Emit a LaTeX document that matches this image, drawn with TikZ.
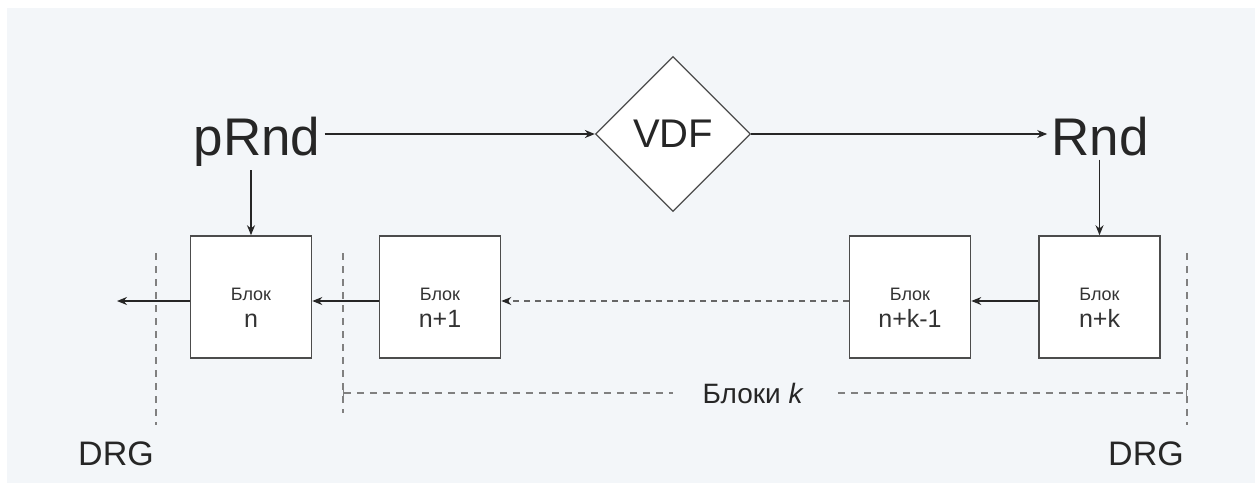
\documentclass[tikz,border=0pt]{standalone}
\usepackage{fontspec}
\setmainfont{Liberation Sans}
\usetikzlibrary{shapes.geometric,arrows.meta}
\definecolor{bgblue}{HTML}{F3F6F9}
\newcommand{\fsz}[1]{\fontsize{#1}{#1}\selectfont}

\begin{document}
\begin{tikzpicture}[x=1pt,y=-1pt]
	\tikzstyle{word}=[text=black!85,inner sep=4pt]
	\tikzstyle{vdfbox}=[diamond,aspect=1,minimum size=155pt,inner sep=0pt,draw=black!70,line width=1.3pt,fill=white,text=black!85]
	\tikzstyle{blok}=[rectangle,draw=black!70,line width=1.6pt,fill=white,minimum width=121pt,minimum height=122pt,align=center,font=\fontsize{25}{27}\selectfont,text=black!80,text height=60pt,text depth=0pt]
	\tikzstyle{edge}=[draw,line width=1.3pt,black!85,-{Stealth[length=10pt,width=8pt]}]
	\tikzstyle{dashedge}=[draw=black!60,line width=1.3pt,dash pattern=on 6pt off 5pt,-{Stealth[length=10pt,width=8pt,black!85]}]
	\tikzstyle{border}=[draw=black!50,line width=1.6pt,dash pattern=on 7pt off 6pt]
	\useasboundingbox (0,0) rectangle (1259,483);
	\fill[white] (0,0) rectangle (1259,483);
	\fill[bgblue] (7,8) rectangle (1255,483);
	\begin{scope}
		% top row
		\node [word,font=\fsz{53},anchor=base] (pRnd) at (257,155) {pRnd};
		\node [vdfbox,font=\fsz{40}] (vdf) at (673,134) {VDF};
		\node [word,font=\fsz{53},anchor=base] (rnd) at (1100,155) {Rnd};
		% blocks
		\node [blok] (bn) at (251,297) {{\fsz{18}Блок}\\n};
		\node [blok] (bn1) at (440,297) {{\fsz{18}Блок}\\n+1};
		\node [blok] (bnk1) at (910,297) {{\fsz{18}Блок}\\n+k-1};
		\node [blok] (bnk) at (1099.5,297) {{\fsz{18}Блок}\\n+k};
		\coordinate (out) at (117,301);
		% DRG borders
		\draw [border] (156,253) -- (156,425);
		\draw [border] (343,253) -- (343,413);
		\draw [border] (1187,253) -- (1187,425);
		\node [word,font=\fsz{34},anchor=base] (drgL) at (116,465) {DRG};
		\node [word,font=\fsz{34},anchor=base] (drgR) at (1146,465) {DRG};
		\coordinate (kL) at (343,393);
		\coordinate (kR) at (1187,393);
		\draw [border,line width=1.4pt,{Bar[width=12pt,line width=1.2pt]}-{Bar[width=12pt,line width=1.2pt]}] (kL) -- node [pos=0.486,fill=bgblue,inner xsep=30pt,font=\fsz{28},text=black!85] (bloki) {Блоки \textit{k}} (kR);
		% arrows
		\path[edge] (pRnd.east |- vdf.west) -- (vdf.west);
		\path[edge] (vdf.east) -- (rnd.west |- vdf.east);
		\path[edge] (bn.north |- pRnd.south) -- (bn.north);
		\path[edge] (bnk.north |- rnd.south) -- (bnk.north);
		\path[edge] ([yshift=-4pt]bn.west) -- (out);
		\path[edge] ([yshift=-4pt]bn1.west) -- ([yshift=-4pt]bn.east);
		\path[dashedge] ([yshift=-4pt]bnk1.west) -- ([yshift=-4pt]bn1.east);
		\path[edge] ([yshift=-4pt]bnk.west) -- ([yshift=-4pt]bnk1.east);
	\end{scope}
\end{tikzpicture}
\end{document}
